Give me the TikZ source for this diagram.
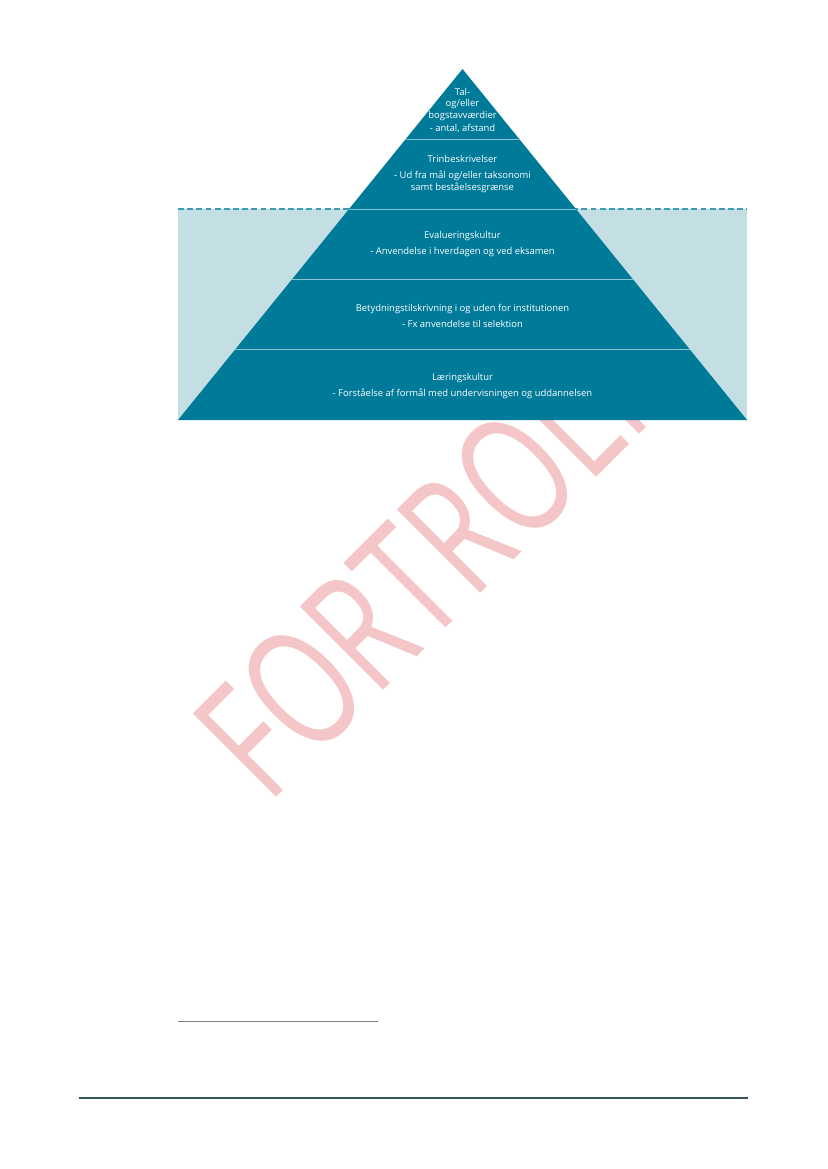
\documentclass[tikz,border=0pt]{standalone}
\usepackage{fontspec}
\setmainfont{Open Sans}
\usetikzlibrary{calc}

\definecolor{pyrteal}{RGB}{0,122,153}
\definecolor{pyrlight}{RGB}{195,223,228}
\definecolor{pyrdash}{RGB}{60,156,184}
\definecolor{pyrsep}{RGB}{140,195,210}
\definecolor{stamppink}{RGB}{245,198,200}
\definecolor{footrule}{RGB}{55,85,95}

\begin{document}
\begin{tikzpicture}[x=0.72pt, y=-0.72pt,
  layertext/.style={text=white, align=center, inner sep=0pt,
    font=\fontsize{6.8}{8.5}\selectfont}]
  \useasboundingbox (0,0) rectangle (827,1169);

  % Watermark
  \node[text=stamppink, rotate=45, anchor=base west, inner sep=0pt,
    font=\fontsize{119}{119}\selectfont] (stamp) at (268,806)
    {\scalebox{0.71}[1]{FORTROLIG}};

  % Background below the line
  \fill[pyrlight] (178,209.4) rectangle (747,420);
  \draw[pyrdash, line width=1.4pt, dash pattern=on 4.3pt off 2.3pt]
    (178,209.4) -- (747,209.4);

  % Pyramid
  \coordinate (apex) at (462.5,69);
  \coordinate (bl) at (178,420);
  \coordinate (br) at (747,420);
  \fill[pyrteal] (apex) -- (br) -- (bl) -- cycle;
  \foreach \k in {1,2,3,4}
    \draw[pyrsep, line width=0.8pt] ($(apex)!\k/5!(bl)$) -- ($(apex)!\k/5!(br)$);

  % Layer texts
  \node[layertext] (tal) at (462.5,110.5)
    {Tal-\\og/eller\\bogstavværdier\\[1pt]- antal, afstand};
  \node[layertext] (trin) at (462.5,174)
    {Trinbeskrivelser\\[3pt]- Ud fra mål og/eller taksonomi\\samt beståelsesgrænse};
  \node[layertext] (evaluering) at (462.5,244.5)
    {Evalueringskultur\\[3pt]- Anvendelse i hverdagen og ved eksamen};
  \node[layertext] (betydning) at (462.5,315.5)
    {Betydningstilskrivning i og uden for institutionen\\[3pt]- Fx anvendelse til selektion};
  \node[layertext] (laering) at (462.5,386.5)
    {Læringskultur\\[3pt]- Forståelse af formål med undervisningen og uddannelsen};

  % Footnote rule and page rule
  \coordinate (fnl) at (178,1021);
  \coordinate (fnr) at (378,1021);
  \draw[gray, line width=0.6pt] (fnl) -- (fnr);
  \coordinate (ftl) at (79,1098);
  \coordinate (ftr) at (748,1098);
  \draw[footrule, line width=1.4pt] (ftl) -- (ftr);
\end{tikzpicture}
\end{document}
